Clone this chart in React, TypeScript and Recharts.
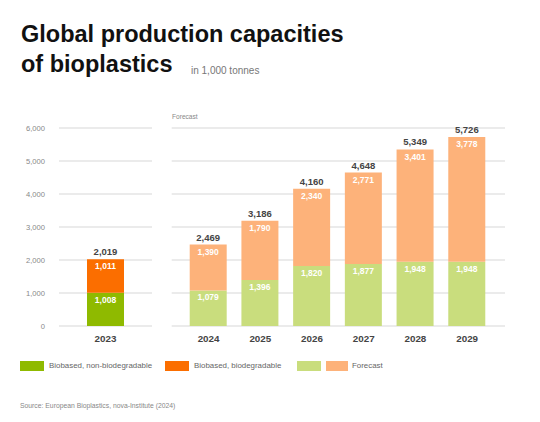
import { BarChart, Bar, XAxis, YAxis, CartesianGrid, LabelList } from 'recharts';

// values in 1,000 tonnes
const actualYears = ['2023'];
const actualNonBio = [1008];
const actualBio = [1011];

const forecastYears = ['2024', '2025', '2026', '2027', '2028', '2029'];
const forecastNonBio = [1079, 1396, 1820, 1877, 1948, 1948];
const forecastBio = [1390, 1790, 2340, 2771, 3401, 3778];

const yTicks = [0, 1000, 2000, 3000, 4000, 5000, 6000];

const COLORS = {
  nonBio: '#8fba00',
  bio: '#fb6e00',
  nonBioForecast: '#c9dd7d',
  bioForecast: '#fdb27a',
};

const FONT = '"Liberation Sans", Arial, Helvetica, sans-serif';

const actualData = actualYears.map((year, i) => ({
  year,
  nonBio: actualNonBio[i],
  bio: actualBio[i],
  total: actualNonBio[i] + actualBio[i],
}));

const forecastData = forecastYears.map((year, i) => ({
  year,
  nonBio: forecastNonBio[i],
  bio: forecastBio[i],
  total: forecastNonBio[i] + forecastBio[i],
}));

const fmt = (v: any) => Number(v).toLocaleString('en-US');

const xTick = { fill: '#444', fontSize: 9.8, fontWeight: 700, fontFamily: FONT };
const innerLabel = { fill: '#fff', fontSize: 8.5, fontWeight: 700, fontFamily: FONT };
const totalLabel = { fill: '#444', fontSize: 9.5, fontWeight: 700, fontFamily: FONT };

const ChartPanel = ({ data, width, margin, showY, padding, low, high }: any) => (
  <BarChart width={width} height={260} data={data} margin={margin} barSize={37}>
    <CartesianGrid vertical={false} stroke="#e4e4e4" strokeWidth={1.5} />
    <XAxis
      dataKey="year"
      axisLine={false}
      tickLine={false}
      tickSize={0}
      tickMargin={9}
      height={34}
      padding={padding}
      tick={xTick}
    />
    <YAxis
      hide={!showY}
      width={showY ? 59 : 0}
      domain={[0, 6000]}
      ticks={yTicks}
      axisLine={false}
      tickLine={false}
      tickSize={0}
      tickMargin={14}
      tickFormatter={fmt}
      tick={{ fill: '#888', fontSize: 7.6, fontFamily: FONT }}
    />
    <Bar dataKey="nonBio" stackId="a" fill={low} isAnimationActive={false}>
      <LabelList dataKey="nonBio" position="insideTop" offset={4} formatter={fmt} style={innerLabel} />
    </Bar>
    <Bar dataKey="bio" stackId="a" fill={high} isAnimationActive={false}>
      <LabelList dataKey="bio" position="insideTop" offset={4} formatter={fmt} style={innerLabel} />
      <LabelList dataKey="total" position="top" offset={4} formatter={fmt} style={totalLabel} />
    </Bar>
  </BarChart>
);

const Swatch = ({ color, left }: { color: string; left: number }) => (
  <div style={{ position: 'absolute', left, top: 361, width: 24, height: 10, background: color }} />
);

const LegendText = ({ text, left }: { text: string; left: number }) => (
  <div style={{ position: 'absolute', left, top: 361, lineHeight: '10px', fontSize: 7.9, color: '#666', whiteSpace: 'nowrap' }}>
    {text}
  </div>
);

export default function App() {
  return (
    <div style={{ position: 'absolute', left: 0, top: 0, width: 540, height: 422, background: '#fff', fontFamily: FONT }}>
      <div style={{ position: 'absolute', left: 21, top: 23.4, fontSize: 23.5, lineHeight: '23.5px', fontWeight: 700, color: '#111', whiteSpace: 'nowrap' }}>
        Global production capacities
      </div>
      <div style={{ position: 'absolute', left: 21, top: 52.8, fontSize: 23.5, lineHeight: '23.5px', fontWeight: 700, color: '#111', whiteSpace: 'nowrap' }}>
        of bioplastics
      </div>
      <div style={{ position: 'absolute', left: 191, top: 65.5, fontSize: 10, lineHeight: '10px', color: '#777', whiteSpace: 'nowrap' }}>
        in 1,000 tonnes
      </div>

      <div style={{ position: 'absolute', left: 172, top: 113, fontSize: 6.6, lineHeight: '8px', color: '#888' }}>Forecast</div>

      <div style={{ position: 'absolute', left: 0, top: 100 }}>
        <ChartPanel
          data={actualData}
          width={160}
          margin={{ top: 28, right: 8, left: 0, bottom: 0 }}
          showY
          padding={{ left: 0, right: 0 }}
          low={COLORS.nonBio}
          high={COLORS.bio}
        />
      </div>
      <div style={{ position: 'absolute', left: 160, top: 100 }}>
        <ChartPanel
          data={forecastData}
          width={360}
          margin={{ top: 28, right: 15, left: 11.7, bottom: 0 }}
          showY={false}
          padding={{ left: 11, right: 12 }}
          low={COLORS.nonBioForecast}
          high={COLORS.bioForecast}
        />
      </div>

      <Swatch color={COLORS.nonBio} left={20} />
      <LegendText text="Biobased, non-biodegradable" left={49} />
      <Swatch color={COLORS.bio} left={165} />
      <LegendText text="Biobased, biodegradable" left={194} />
      <Swatch color={COLORS.nonBioForecast} left={297} />
      <div style={{ position: 'absolute', left: 326, top: 361, width: 22, height: 10, background: COLORS.bioForecast }} />
      <LegendText text="Forecast" left={352} />

      <div style={{ position: 'absolute', left: 20, top: 402, fontSize: 6.8, lineHeight: '8px', color: '#888', whiteSpace: 'nowrap' }}>
        Source: European Bioplastics, nova-Institute (2024)
      </div>
    </div>
  );
}
